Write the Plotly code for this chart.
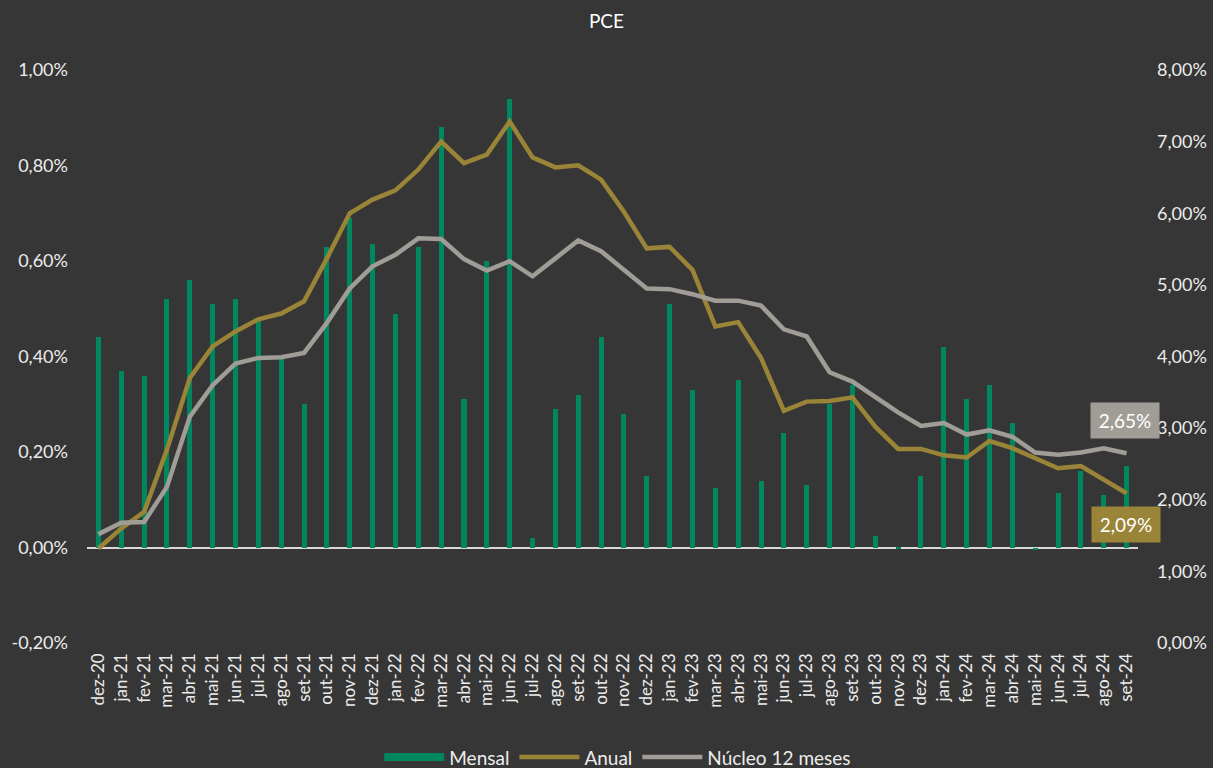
import plotly.graph_objects as go

# meses (eixo x)
meses = ['dez-20',
         'jan-21', 'fev-21', 'mar-21', 'abr-21', 'mai-21', 'jun-21', 'jul-21', 'ago-21', 'set-21', 'out-21', 'nov-21', 'dez-21',
         'jan-22', 'fev-22', 'mar-22', 'abr-22', 'mai-22', 'jun-22', 'jul-22', 'ago-22', 'set-22', 'out-22', 'nov-22', 'dez-22',
         'jan-23', 'fev-23', 'mar-23', 'abr-23', 'mai-23', 'jun-23', 'jul-23', 'ago-23', 'set-23', 'out-23', 'nov-23', 'dez-23',
         'jan-24', 'fev-24', 'mar-24', 'abr-24', 'mai-24', 'jun-24', 'jul-24', 'ago-24', 'set-24']

# variacao mensal (%), eixo esquerdo
mensal = [0.44,
          0.37, 0.36, 0.52, 0.56, 0.51, 0.52, 0.48, 0.40, 0.30, 0.63, 0.69, 0.635,
          0.49, 0.63, 0.88, 0.31, 0.60, 0.94, 0.02, 0.29, 0.32, 0.44, 0.28, 0.15,
          0.51, 0.33, 0.125, 0.35, 0.14, 0.24, 0.13, 0.30, 0.34, 0.025, -0.003, 0.15,
          0.42, 0.31, 0.34, 0.26, -0.006, 0.115, 0.16, 0.11, 0.17]

# acumulado 12 meses (%), eixo direito
anual = [1.32,
         1.60, 1.83, 2.70, 3.70, 4.14, 4.35, 4.52, 4.60, 4.77, 5.37, 6.00, 6.19,
         6.32, 6.61, 7.00, 6.70, 6.82, 7.28, 6.78, 6.64, 6.67, 6.47, 6.02, 5.51,
         5.53, 5.21, 4.42, 4.48, 3.98, 3.24, 3.37, 3.38, 3.43, 3.02, 2.71, 2.71,
         2.62, 2.59, 2.82, 2.72, 2.58, 2.44, 2.47, 2.28, 2.09]

nucleo = [1.52,
          1.68, 1.69, 2.18, 3.16, 3.60, 3.90, 3.98, 3.99, 4.05, 4.47, 4.95, 5.26,
          5.42, 5.65, 5.64, 5.36, 5.20, 5.33, 5.12, 5.37, 5.62, 5.47, 5.21, 4.95,
          4.94, 4.87, 4.78, 4.78, 4.71, 4.38, 4.28, 3.78, 3.65, 3.44, 3.22, 3.03,
          3.07, 2.91, 2.97, 2.88, 2.66, 2.63, 2.66, 2.72, 2.65]

BG = '#363636'
TXT = '#ececec'
VERDE = '#00875f'
OURO = '#9a8438'
CINZA = '#a09d97'
FONT = 'Lato, Carlito, Calibri, sans-serif'

fig = go.Figure()

fig.add_trace(go.Bar(
    x=meses, y=mensal, name='Mensal', showlegend=False,
    marker=dict(color=VERDE, line=dict(width=0)),
    width=0.22,
))
# item de legenda em forma de faixa larga (como no original)
fig.add_trace(go.Scatter(
    x=[meses[0]], y=[None], name='Mensal', mode='lines',
    line=dict(color=VERDE, width=8),
))
fig.add_trace(go.Scatter(
    x=meses, y=anual, name='Anual', yaxis='y2',
    mode='lines', line=dict(color=OURO, width=4.5),
))
fig.add_trace(go.Scatter(
    x=meses, y=nucleo, name='Núcleo 12 meses', yaxis='y2',
    mode='lines', line=dict(color=CINZA, width=4.5),
))

def fmt(v):
    return f'{v:.2f}%'.replace('.', ',')

# caixas com o ultimo valor
fig.add_annotation(x=meses[-1], y=3.10, yref='y2', xshift=-2,
                   text=fmt(nucleo[-1]), showarrow=False,
                   bgcolor=CINZA, font=dict(color='white', size=19, family=FONT),
                   width=66, height=33)
fig.add_annotation(x=meses[-1], y=1.65, yref='y2', xshift=-1,
                   text=fmt(anual[-1]), showarrow=False,
                   bgcolor=OURO, font=dict(color='white', size=19, family=FONT),
                   width=66, height=33)

left_ticks = [-0.2, 0.0, 0.2, 0.4, 0.6, 0.8, 1.0]
right_ticks = [0, 1, 2, 3, 4, 5, 6, 7, 8]

fig.update_layout(
    width=1213, height=768,
    paper_bgcolor=BG, plot_bgcolor=BG,
    font=dict(family=FONT, color=TXT, size=17),
    title=dict(text='PCE', x=0.5, xanchor='center', y=0.972, yanchor='middle',
               font=dict(size=19, color='white', family=FONT)),
    margin=dict(l=87, r=75, t=70, b=125, autoexpand=False),
    bargap=0,
    showlegend=True,
    legend=dict(orientation='h', x=0.505, xanchor='center', yref='container',
                y=0.014, yanchor='middle',
                font=dict(size=19, color=TXT, family=FONT), bgcolor='rgba(0,0,0,0)',
                traceorder='normal', itemwidth=60),
    xaxis=dict(type='category', tickangle=-90, showgrid=False, showline=False,
               automargin=False, categoryorder='array', categoryarray=meses,
               range=[-0.5, len(meses) - 0.5], domain=[0, 1],
               ticks='', tickfont=dict(size=17, color=TXT), ticklabelstandoff=6),
    yaxis=dict(range=[-0.2, 1.0], tickvals=left_ticks, automargin=False,
               ticktext=[fmt(v) for v in left_ticks], showgrid=False,
               zeroline=True, zerolinecolor='#d9d9d9', zerolinewidth=2,
               tickfont=dict(size=18, color=TXT), ticklabelstandoff=18),
    yaxis2=dict(range=[0, 8], tickvals=right_ticks, automargin=False,
                ticktext=[fmt(v) for v in right_ticks], overlaying='y', side='right',
                showgrid=False, zeroline=False, anchor='x',
                tickfont=dict(size=18, color=TXT), ticklabelstandoff=18),
)

fig.write_html('out.html', config={'displayModeBar': False},
               post_script="document.body.style.margin='0';")
